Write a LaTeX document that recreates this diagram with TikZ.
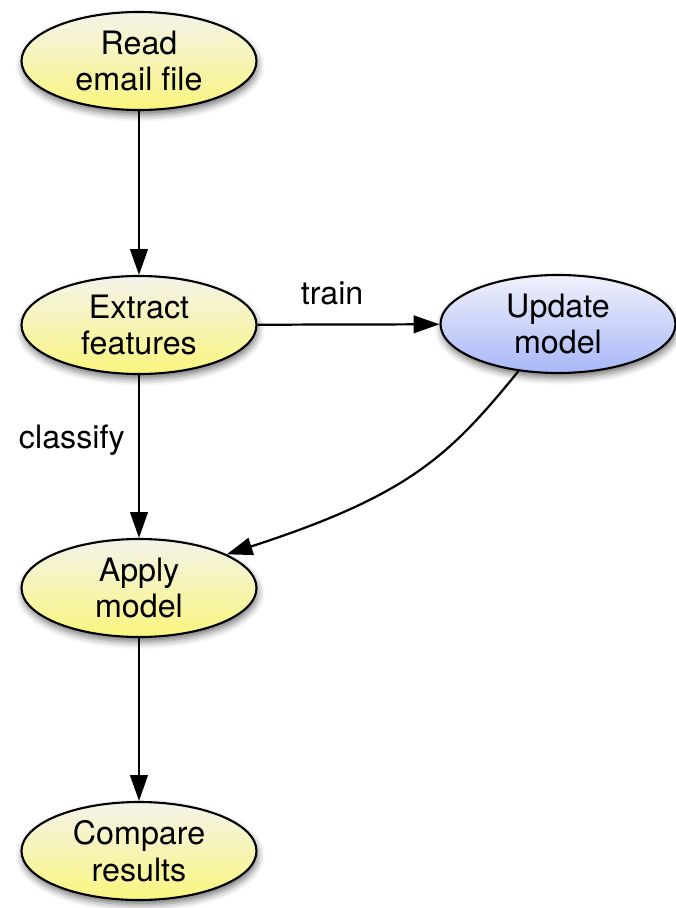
\documentclass[tikz,border=0pt]{standalone}
\usepackage{fontspec}
\setmainfont{TeX Gyre Heros}
\usetikzlibrary{arrows.meta,shapes.geometric,shadows.blur}

\definecolor{stepTop}{HTML}{F4F3EA}
\definecolor{stepBottom}{HTML}{F9F57E}
\definecolor{modelTop}{HTML}{F0F1FB}
\definecolor{modelBottom}{HTML}{A8B8F8}

\begin{document}
\begin{tikzpicture}[x=0.03cm,y=0.03cm,
    stepnode/.style={ellipse,draw,line width=1.8pt,minimum width=7.05cm,minimum height=2.94cm,
        inner sep=0pt,align=center,font=\fontsize{27.5}{31.5}\selectfont,
        top color=stepTop,bottom color=stepBottom,
        blur shadow={shadow xshift=1pt,shadow yshift=-4pt,shadow blur radius=6pt,shadow opacity=55}},
    modelnode/.style={stepnode,top color=modelTop,bottom color=modelBottom},
    flow/.style={line width=1.9pt,-{Triangle[length=22pt,width=15pt]}},
    edgelabel/.style={font=\fontsize{27.5}{31.5}\selectfont}]
    \useasboundingbox (0,0) rectangle (675,-908);

    \node[stepnode] (read) at (139,-61) {Read\\email file};
    \node[stepnode] (extract) at (139,-325) {Extract\\features};
    \node[modelnode] (update) at (558,-324) {Update\\model};
    \node[stepnode] (apply) at (139,-588) {Apply\\model};
    \node[stepnode] (compare) at (139,-851) {Compare\\results};

    \draw[flow] (read) -- (extract);
    \draw[flow] (extract) -- node[edgelabel,above=12pt,xshift=-14] {train} (update);
    \draw[flow] (extract) -- node[edgelabel,left=8pt,pos=0.4] {classify} (apply);
    \draw[flow] (update.230) .. controls (450,-455) and (410,-495) .. (apply.21);
    \draw[flow] (apply) -- (compare);
\end{tikzpicture}
\end{document}
